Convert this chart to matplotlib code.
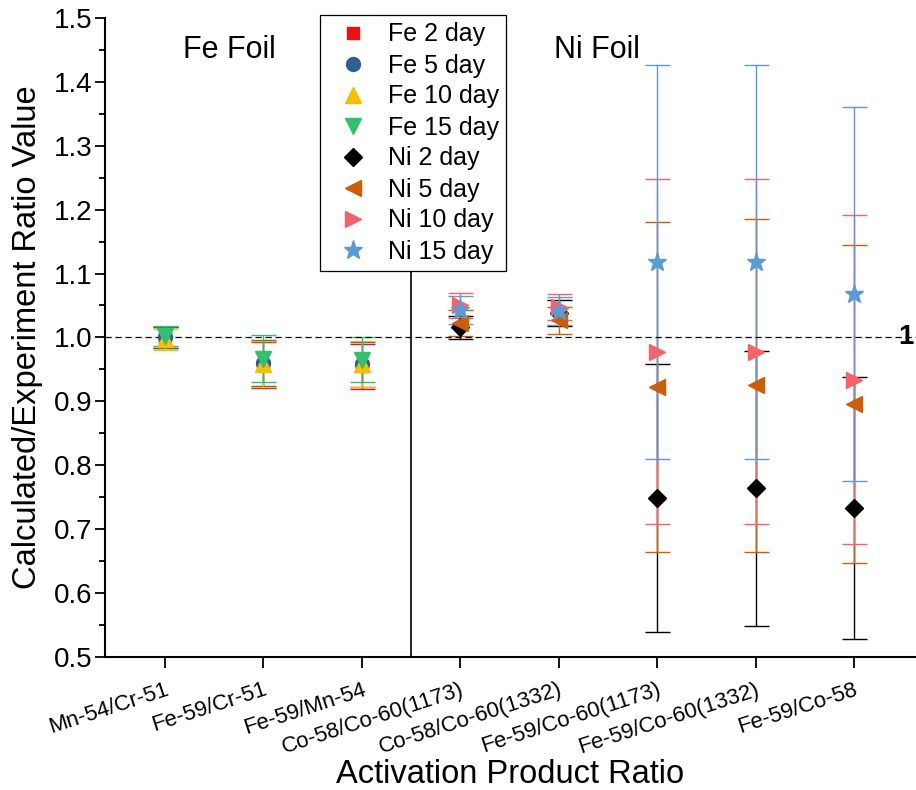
import numpy as np
import matplotlib
matplotlib.use("Agg")
import matplotlib.pyplot as plt
from matplotlib.lines import Line2D

# category labels
ratios = ["Mn-54/Cr-51", "Fe-59/Cr-51", "Fe-59/Mn-54",
          "Co-58/Co-60(1173)", "Co-58/Co-60(1332)",
          "Fe-59/Co-60(1173)", "Fe-59/Co-60(1332)", "Fe-59/Co-58"]

# Fe foil (first 3 ratios)
fe2 = [1.000, 0.957, 0.955]
fe2_err = [0.016, 0.036, 0.035]
fe5 = [1.000, 0.960, 0.958]
fe5_err = [0.016, 0.036, 0.035]
fe10 = [0.997, 0.958, 0.958]
fe10_err = [0.016, 0.036, 0.036]
fe15 = [1.002, 0.967, 0.965]
fe15_err = [0.016, 0.037, 0.035]

# Ni foil (last 5 ratios)
ni2 = [1.016, 1.038, 0.749, 0.764, 0.733]
ni2_err = [0.018, 0.020, 0.210, 0.215, 0.205]
ni5 = [1.023, 1.027, 0.922, 0.925, 0.896]
ni5_err = [0.020, 0.021, 0.258, 0.260, 0.249]
ni10 = [1.050, 1.048, 0.978, 0.978, 0.934]
ni10_err = [0.020, 0.020, 0.270, 0.270, 0.257]
ni15 = [1.043, 1.042, 1.118, 1.118, 1.068]
ni15_err = [0.022, 0.022, 0.308, 0.308, 0.293]

x_fe = np.arange(1, 4)
x_ni = np.arange(4, 9)

series = [
    (x_fe, fe2, fe2_err, "s", "#ee1111", 9, "Fe 2 day"),
    (x_fe, fe5, fe5_err, "o", "#2e5f99", 10, "Fe 5 day"),
    (x_fe, fe10, fe10_err, "^", "#f5c000", 11, "Fe 10 day"),
    (x_fe, fe15, fe15_err, "v", "#33bf6e", 11, "Fe 15 day"),
    (x_ni, ni2, ni2_err, "D", "#000000", 9, "Ni 2 day"),
    (x_ni, ni5, ni5_err, "<", "#cc5f06", 11, "Ni 5 day"),
    (x_ni, ni10, ni10_err, ">", "#f6626b", 11, "Ni 10 day"),
    (x_ni, ni15, ni15_err, "*", "#5b9bd5", 14, "Ni 15 day"),
]

plt.rcParams['font.family'] = ['Liberation Sans', 'DejaVu Sans']

fig = plt.figure(figsize=(9.16, 7.9), dpi=100)
ax = fig.add_axes([0.1146, 0.1684, 0.8854, 0.8089])

handles = []
for xs, ys, errs, mk, col, ms, lab in series:
    ax.errorbar(xs, ys, yerr=errs, fmt=mk, color=col, ms=ms, mec=col,
                ecolor=col, elinewidth=1, capsize=9, capthick=1)
    handles.append(Line2D([], [], ls="none", marker=mk, color=col,
                          mec=col, ms=ms, label=lab))

ax.axhline(1.0, color="black", lw=0.9, ls=(0, (5, 3)))
ax.axvline(3.5, color="black", lw=1.2)

ax.set_xlim(0.39, 8.63)
ax.set_ylim(0.5, 1.5)
ax.set_yticks(np.arange(0.5, 1.51, 0.1))
ax.set_yticks(np.arange(0.55, 1.5, 0.1), minor=True)
ax.set_xticks(np.arange(1, 9))
ax.set_xticklabels(ratios, rotation=18, ha="right", rotation_mode="anchor",
                   fontsize=16)
ax.tick_params(axis="y", labelsize=20, width=1.3, length=7, direction="out",
               pad=2)
ax.tick_params(axis="y", which="minor", width=1.3, length=4)
ax.tick_params(axis="x", width=1.3, length=8, direction="out", pad=8)

for s in ["top", "right"]:
    ax.spines[s].set_visible(False)
for s in ["left", "bottom"]:
    ax.spines[s].set_linewidth(1.5)

ax.set_ylabel("Calculated/Experiment Ratio Value", fontsize=23.5, va="center")
ax.yaxis.set_label_coords(-(105 - 28) / 811, 0.5)
ax.set_xlabel("Activation Product Ratio", fontsize=23.5, va="center")
ax.xaxis.set_label_coords(0.5, -(775 - 657) / 639)

ax.text(1.65, 1.45, "Fe Foil", fontsize=22, ha="center", va="center")
ax.text(5.39, 1.45, "Ni Foil", fontsize=22, ha="center", va="center")
ax.annotate("1", xy=(1.0, 1.0), xycoords=("axes fraction", "data"),
            xytext=(-13, 0), textcoords="offset points",
            fontsize=20, fontweight="bold", va="center", ha="left",
            annotation_clip=False)

leg = ax.legend(handles=handles, loc="upper left",
                bbox_to_anchor=(320 / 916, 1 - 15 / 790),
                bbox_transform=fig.transFigure, fontsize=18, frameon=True,
                fancybox=False, edgecolor="black", framealpha=1,
                handletextpad=0.4, labelspacing=0.28, borderpad=0.3,
                handlelength=2.0, borderaxespad=0)
leg.get_frame().set_linewidth(0.9)

fig.savefig("out.png", dpi=100)
